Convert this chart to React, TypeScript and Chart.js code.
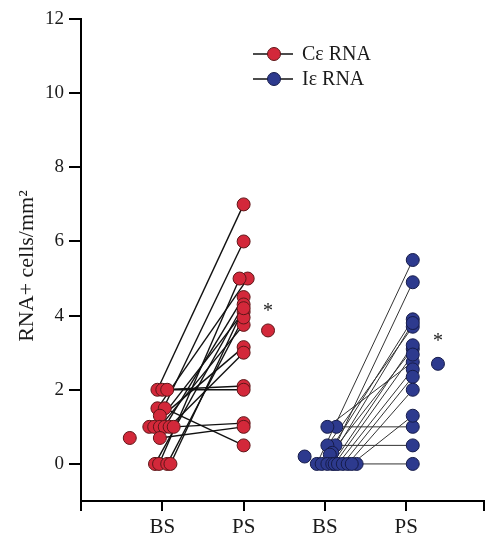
import { useEffect, useRef } from 'react';
import { Chart, registerables } from 'chart.js';

Chart.register(...registerables);

// Axis categories (x positions in category units)
const tickPositions = [0, 1, 2, 3, 4, 4.95];
const tickLabels = ['', 'BS', 'PS', 'BS', 'PS', ''];
const yTicks = [0, 2, 4, 6, 8, 10, 12];
const legendLabels = ['Cε RNA', 'Iε RNA'];
const yTitle = 'RNA+ cells/mm²';

// Cε RNA paired values (BS -> PS), with horizontal jitter positions
const cBS = [2, 2, 2, 1.5, 1.5, 1.3, 1, 1, 1, 1, 1, 1, 0.7, 0, 0, 0, 0];
const cBSx = [0.94, 1.0, 1.06, 0.94, 1.03, 0.97, 0.84, 0.9, 0.97, 1.03, 1.09, 1.14, 0.97, 0.91, 0.96, 1.06, 1.1];
const cPS = [7, 2.1, 2.0, 5, 0.5, 6, 3.15, 4.1, 3.75, 4.5, 3.0, 1.1, 1.0, 4.3, 5, 3.95, 4.2];
const cPSx = [2, 2, 2, 2.05, 2, 2, 2, 2, 2, 2, 2, 2, 2, 2, 1.95, 2, 2];
const cMean = [0.7, 3.6];
const cMeanX = [0.6, 2.3];

// Iε RNA paired values (BS -> PS)
const iBS = [0, 1, 0.5, 1, 0.5, 0.3, 0.25, 0, 0, 0, 0, 0, 0, 0, 0, 0];
const iBSx = [3.39, 3.14, 3.13, 3.03, 3.03, 3.09, 3.06, 2.9, 2.96, 3.03, 3.09, 3.12, 3.16, 3.22, 3.28, 3.33];
const iPS = [0, 1, 0.5, 2.75, 3.7, 4.9, 3.1, 5.5, 3.9, 3.8, 3.2, 2.95, 2.55, 2.35, 2.0, 1.3];
const iPSx = [4.08, 4.08, 4.08, 4.08, 4.08, 4.08, 4.08, 4.08, 4.08, 4.08, 4.08, 4.08, 4.08, 4.08, 4.08, 4.08];
const iMean = [0.2, 2.7];
const iMeanX = [2.75, 4.39];

const RED = '#d3283a';
const RED_BORDER = '#5e1618';
const BLUE = '#2d3a8e';
const BLUE_BORDER = '#161c4a';
const SERIF = "'Liberation Serif', 'DejaVu Serif', serif";

export default function App() {
  const ref = useRef<HTMLCanvasElement>(null);

  useEffect(() => {
    const canvas = ref.current;
    if (!canvas) return;
    const datasets: any[] = [];

    cBS.forEach((v, i) => {
      datasets.push({
        data: [{ x: cBSx[i], y: v }, { x: cPSx[i], y: cPS[i] }],
        showLine: true,
        borderColor: '#111',
        borderWidth: 1.4,
        pointRadius: 0,
        order: 3,
      });
    });
    iBS.forEach((v, i) => {
      datasets.push({
        data: [{ x: iBSx[i], y: v }, { x: iPSx[i], y: iPS[i] }],
        showLine: true,
        borderColor: '#333',
        borderWidth: 1,
        pointRadius: 0,
        order: 3,
      });
    });
    const pointStyle = (fill: string, border: string) => ({
      showLine: false,
      backgroundColor: fill,
      borderColor: border,
      pointBackgroundColor: fill,
      pointBorderColor: border,
      pointBorderWidth: 1,
      pointRadius: 6.5,
    });
    datasets.push({
      label: legendLabels[0],
      data: [
        ...cBS.map((v, i) => ({ x: cBSx[i], y: v })),
        ...cPS.map((v, i) => ({ x: cPSx[i], y: v })),
        ...cMean.map((v, i) => ({ x: cMeanX[i], y: v })),
      ],
      ...pointStyle(RED, RED_BORDER),
      order: 0,
    });
    datasets.push({
      label: legendLabels[1],
      data: [
        ...iBS.map((v, i) => ({ x: iBSx[i], y: v })),
        ...iPS.map((v, i) => ({ x: iPSx[i], y: v })),
        ...iMean.map((v, i) => ({ x: iMeanX[i], y: v })),
      ],
      ...pointStyle(BLUE, BLUE_BORDER),
      order: 0,
    });

    const overlay = {
      id: 'overlay',
      afterDraw(chart: any) {
        const c = chart.ctx;
        const xs = chart.scales.x;
        const ys = chart.scales.y;
        c.save();
        // y-axis title
        c.fillStyle = '#1a1a1a';
        c.font = `22px ${SERIF}`;
        c.textAlign = 'center';
        c.textBaseline = 'middle';
        c.translate(27, 266);
        c.rotate(-Math.PI / 2);
        c.fillText(yTitle, 0, 0);
        c.restore();

        // significance asterisks above PS means
        c.save();
        c.fillStyle = '#1a1a1a';
        c.font = `20px ${SERIF}`;
        c.textAlign = 'center';
        c.textBaseline = 'middle';
        c.fillText('*', xs.getPixelForValue(cMeanX[1]), ys.getPixelForValue(cMean[1]) - 19);
        c.fillText('*', xs.getPixelForValue(iMeanX[1]), ys.getPixelForValue(iMean[1]) - 22);
        c.restore();

        // legend
        const items = [
          { label: legendLabels[0], fill: RED, border: RED_BORDER },
          { label: legendLabels[1], fill: BLUE, border: BLUE_BORDER },
        ];
        c.save();
        items.forEach((it, k) => {
          const yy = 54 + k * 25;
          c.strokeStyle = '#111';
          c.lineWidth = 1.5;
          c.beginPath();
          c.moveTo(253, yy);
          c.lineTo(293, yy);
          c.stroke();
          c.beginPath();
          c.arc(274, yy, 6.5, 0, Math.PI * 2);
          c.fillStyle = it.fill;
          c.fill();
          c.strokeStyle = it.border;
          c.lineWidth = 1;
          c.stroke();
          c.fillStyle = '#1a1a1a';
          c.font = `20px ${SERIF}`;
          c.textAlign = 'left';
          c.textBaseline = 'middle';
          c.fillText(it.label, 302, yy + 1);
        });
        c.restore();
      },
    };

    const chart = new Chart(canvas, {
      type: 'scatter',
      data: { datasets },
      options: {
        animation: false,
        responsive: false,
        devicePixelRatio: 1,
        layout: { padding: { top: 19, right: 1, left: 0, bottom: 0 } },
        plugins: { legend: { display: false }, tooltip: { enabled: false } },
        scales: {
          x: {
            type: 'linear',
            min: 0,
            max: 4.95,
            afterBuildTicks: (axis: any) => {
              axis.ticks = tickPositions.map((v) => ({ value: v }));
            },
            afterFit: (axis: any) => {
              axis.height = 39;
            },
            ticks: {
              autoSkip: false,
              maxRotation: 0,
              padding: 4,
              color: '#1a1a1a',
              font: { family: SERIF, size: 21 },
              callback: (_v: any, idx: number) => tickLabels[idx],
            },
            grid: { drawOnChartArea: false, drawTicks: true, tickLength: 10, lineWidth: 2, color: '#000' },
            border: { display: true, color: '#000', width: 2 },
          },
          y: {
            type: 'linear',
            min: -1,
            max: 12,
            afterBuildTicks: (axis: any) => {
              axis.ticks = yTicks.map((v) => ({ value: v }));
            },
            afterFit: (axis: any) => {
              axis.width = 81;
            },
            ticks: {
              padding: 5,
              color: '#1a1a1a',
              font: { family: SERIF, size: 19 },
            },
            grid: { drawOnChartArea: false, drawTicks: true, tickLength: 12, lineWidth: 2, color: '#000' },
            border: { display: true, color: '#000', width: 2 },
          },
        },
      },
      plugins: [overlay],
    });
    return () => chart.destroy();
  }, []);

  return (
    <div style={{ position: 'absolute', left: 0, top: 0, width: 491, height: 540, background: '#fff' }}>
      <canvas ref={ref} width={491} height={540} style={{ display: 'block' }} />
    </div>
  );
}
